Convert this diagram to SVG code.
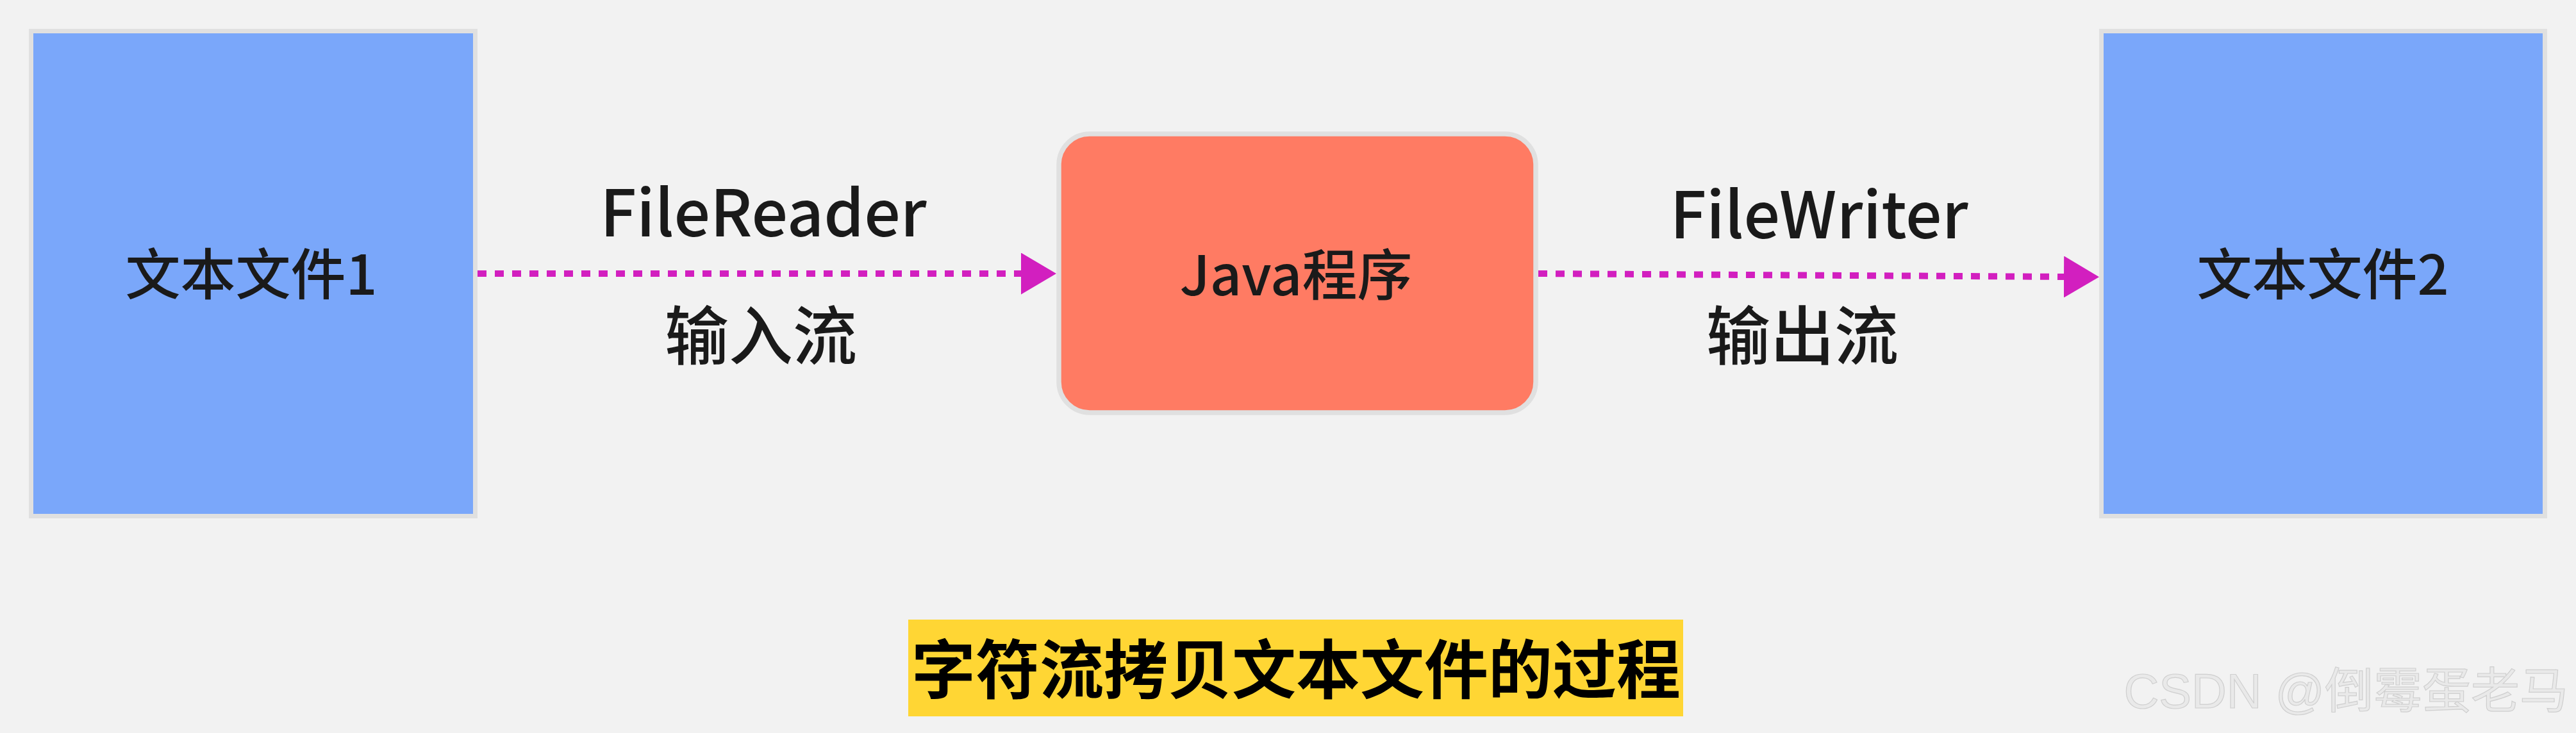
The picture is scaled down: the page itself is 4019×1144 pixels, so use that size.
<svg xmlns="http://www.w3.org/2000/svg" width="4019" height="1144" viewBox="0 0 4019 1144">
  <style>
    .bg { fill: #f2f2f2; }
    .file { fill: #7aa7fa; stroke: #e0e0e0; stroke-width: 7; }
    .prog { fill: #ff7b63; stroke: #e0e0e0; stroke-width: 7.5; }
    .node-text { font-family: "Noto Sans CJK SC", "Noto Sans", sans-serif; font-size: 86px; font-weight: 500; fill: #1a1a1a; text-anchor: middle; }
    .edge-label { font-family: "Noto Sans CJK SC", "Noto Sans", sans-serif; font-size: 100px; font-weight: 500; fill: #1a1a1a; text-anchor: middle; }
    .edge { fill: none; stroke: #d21fbf; stroke-width: 10; stroke-dasharray: 14 13; }
    .title-bg { fill: #ffd634; }
    .title { font-family: "Noto Sans CJK SC", sans-serif; font-size: 100px; font-weight: 700; fill: #000000; text-anchor: middle; }
    .watermark { font-family: "Liberation Sans", "Noto Sans CJK SC", sans-serif; font-size: 76px; fill: #e9e9e9; stroke: #cfcfcf; stroke-width: 1.2; text-anchor: end; }
  </style>
  <defs>
    <marker id="arrow" viewBox="0 0 55 65" markerWidth="55" markerHeight="65" markerUnits="userSpaceOnUse" refX="0" refY="32.5" orient="auto">
      <path d="M0,0 L55,32.5 L0,65 Z" fill="#d21fbf"/>
    </marker>
  </defs>
  <rect class="bg" x="0" y="0" width="4019" height="1144"/>

  <g id="connectors">
    <g id="edge-reader">
      <line class="edge" x1="745" y1="427" x2="1593" y2="427" marker-end="url(#arrow)"/>
      <text class="edge-label" x="1191" y="369">FileReader</text>
      <text class="edge-label" x="1187" y="561">输入流</text>
    </g>
    <g id="edge-writer">
      <line class="edge" x1="2400" y1="427" x2="3220" y2="432" marker-end="url(#arrow)"/>
      <text class="edge-label" x="2838" y="372">FileWriter</text>
      <text class="edge-label" x="2812" y="561">输出流</text>
    </g>
  </g>

  <g id="node-file1">
    <rect class="file" x="48.5" y="48.5" width="693" height="757"/>
    <text class="node-text" x="392" y="460">文本文件1</text>
  </g>

  <g id="node-java">
    <rect class="prog" x="1652" y="209" width="744" height="435" rx="48" ry="48"/>
    <text class="node-text" x="2022" y="461">Java程序</text>
  </g>

  <g id="node-file2">
    <rect class="file" x="3278.5" y="48.5" width="692" height="757"/>
    <text class="node-text" x="3624" y="460">文本文件2</text>
  </g>

  <g id="caption">
    <rect class="title-bg" x="1417" y="967" width="1209" height="151"/>
    <text class="title" x="2022" y="1082">字符流拷贝文本文件的过程</text>
  </g>

  <text class="watermark" x="4007" y="1105">CSDN @倒霉蛋老马</text>
</svg>
